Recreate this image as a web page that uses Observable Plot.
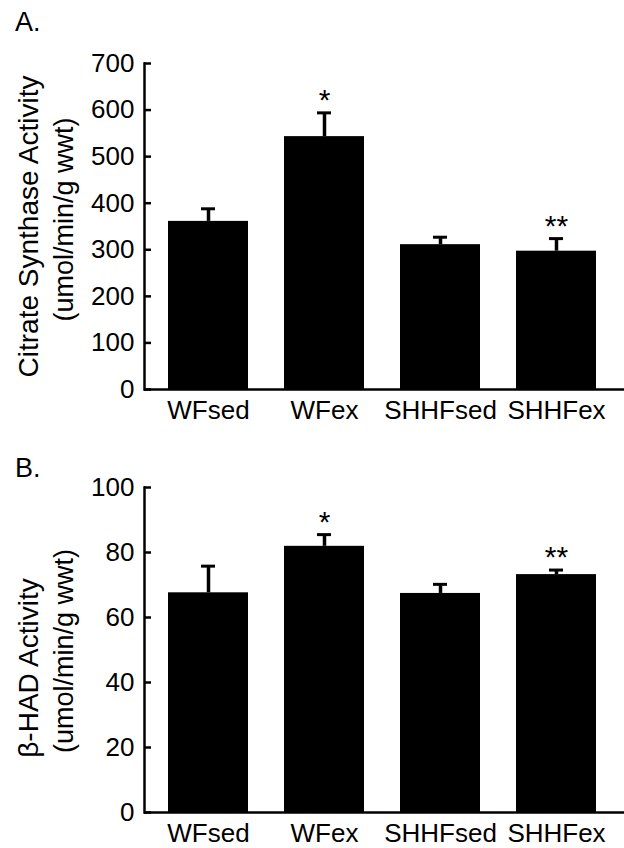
<!DOCTYPE html>
<html><head><meta charset="utf-8">
<script src="https://cdn.jsdelivr.net/npm/d3@7"></script>
<script src="https://cdn.jsdelivr.net/npm/@observablehq/plot@0.6"></script>
<style>
body{margin:0;background:#fff;font-family:"Liberation Sans",Arial,sans-serif;}
#wrap{position:relative;width:624px;height:848px;overflow:hidden;}
.panel{position:absolute;left:0;width:624px;}
.tag{position:absolute;left:15px;font-size:27px;line-height:27px;color:#000;}
</style></head><body>
<div id="wrap">
  <div class="panel" id="pa" style="top:0"></div>
  <div class="panel" id="pb" style="top:424px"></div>
  <div class="tag" style="top:9px">A.</div>
  <div class="tag" style="top:455px">B.</div>
</div>
<script>
// ---- data ----
const groups = ["WFsed", "WFex", "SHHFsed", "SHHFex"];
const csMean = [361, 543, 311, 297];
const csErr = [27, 51, 16, 27];
const hadMean = [67.6, 81.9, 67.4, 73.2];
const hadErr = [8.2, 3.6, 2.8, 1.4];
const stars = ["", "*", "", "**"];
const csTicks = [0, 100, 200, 300, 400, 500, 600, 700];
const hadTicks = [0, 20, 40, 60, 80, 100];
const csTitle = ["Citrate Synthase Activity", "(umol/min/g wwt)"];
const hadTitle = ["β-HAD Activity", "(umol/min/g wwt)"];

const FONT = "Liberation Sans, Arial, Helvetica, sans-serif";

function panel({mean, err, ticks, title, height, marginBottom, t1dy, t2dy}) {
  const data = groups.map((g, i) => ({g, v: mean[i], hi: mean[i] + err[i], s: stars[i]}));
  const marginLeft = 144, width = 624;
  const frameW = width - marginLeft;
  return Plot.plot({
    width, height, marginLeft, marginRight: 0, marginTop: 63, marginBottom,
    style: {fontFamily: FONT, background: "white", color: "black", overflow: "visible"},
    x: {domain: groups, paddingInner: 0.31, paddingOuter: 0.22, align: 0.46},
    y: {domain: [0, d3.max(ticks)]},
    marks: [
      Plot.barY(data, {x: "g", y: "v", fill: "black"}),
      Plot.ruleX(data, {x: "g", y1: "v", y2: "hi", strokeWidth: 3.5, stroke: "black"}),
      Plot.tickY(data, {x: "g", y: "hi", strokeWidth: 3, stroke: "black", insetLeft: 33, insetRight: 33}),
      Plot.text(data, {x: "g", y: "hi", text: "s", fontSize: 30, lineAnchor: "bottom", dy: -3, fill: "black"}),
      Plot.ruleY(ticks, {y: d => d, insetRight: frameW - 7, strokeWidth: 2.5, stroke: "black"}),
      Plot.ruleY([0], {strokeWidth: 2.5, stroke: "black"}),
      Plot.frame({anchor: "left", strokeWidth: 2.5, stroke: "black"}),
      Plot.axisY({ticks, tickSize: 0, tickPadding: 10, fontSize: 26, label: null}),
      Plot.axisX({tickSize: 0, tickPadding: 11, fontSize: 26, label: null}),
      Plot.text([title[0]], {text: d => d, frameAnchor: "left", textAnchor: "middle", rotate: -90, fontSize: 28, dx: -115, dy: t1dy, fill: "black"}),
      Plot.text([title[1]], {text: d => d, frameAnchor: "left", textAnchor: "middle", rotate: -90, fontSize: 27, dx: -80, dy: t2dy, fill: "black"})
    ]
  });
}

document.getElementById("pa").append(panel({
  mean: csMean, err: csErr, ticks: csTicks, title: csTitle,
  height: 424, marginBottom: 35, t1dy: 0, t2dy: -7
}));
document.getElementById("pb").append(panel({
  mean: hadMean, err: hadErr, ticks: hadTicks, title: hadTitle,
  height: 424, marginBottom: 36, t1dy: 18, t2dy: 1
}));
</script>
</body></html>
